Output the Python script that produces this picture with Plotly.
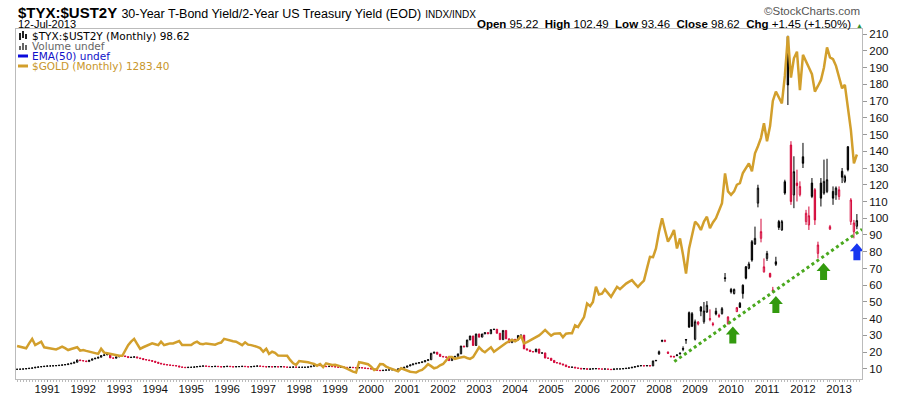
import pandas as pd
import plotly.graph_objects as go

# ---------------- data ----------------
START = "1990-03-01"   # first monthly bar

# $TYX:$UST2Y monthly closes, Mar-1990 .. Dec-2007 (small marks)
early_close = [
    9.8, 9.9, 10.0, 10.2, 10.4, 10.6, 11.0, 11.2, 11.4, 11.6,
    11.8, 11.8, 11.9, 12.0, 12.2, 12.4, 12.6, 13.0, 13.4, 14.0,
    15.4, 15.0, 14.8, 14.4, 15.2, 16.0, 16.4, 17.0, 18.0, 18.4,
    19.0, 16.6, 16.4, 17.2, 17.8, 17.8, 17.4, 16.8, 17.0, 17.2,
    16.6, 16.2, 15.6, 15.4, 15.0, 14.6, 14.0, 13.4, 13.0, 12.6,
    12.4, 12.2, 12.0, 11.8, 11.2, 11.0, 10.8, 11.0, 11.0, 11.2,
    11.4, 11.6, 11.8, 11.6, 11.4, 11.4, 11.6, 11.4, 11.2, 11.4,
    11.6, 11.4, 11.2, 11.4, 11.4, 11.6, 11.4, 11.2, 11.4, 11.6,
    11.8, 11.6, 11.4, 11.2, 11.4, 11.2, 11.4, 11.2, 11.4, 11.2,
    11.0, 11.0, 11.2, 11.0, 11.0, 11.0, 11.0, 11.2, 11.6, 12.0,
    12.2, 12.0, 11.6, 11.4, 11.6, 11.4, 11.2, 11.0, 11.2, 11.0,
    10.8, 11.0, 10.8, 10.6, 10.8, 10.6, 10.4, 10.2, 10.0, 9.6,
    9.2, 9.0, 9.2, 9.4, 9.4, 9.6, 9.6, 10.0, 10.4, 11.0,
    11.8, 12.4, 13.0, 13.4, 13.8, 14.2, 15.0, 15.5, 19.4, 20.0,
    18.8, 17.5, 17.2, 17.0, 15.0, 17.0, 17.5, 19.0, 23.7, 23.2,
    27.3, 29.7, 24.0, 30.9, 29.0, 30.9, 31.7, 31.0, 33.5, 33.7,
    31.3, 27.5, 33.0, 28.0, 25.7, 27.7, 27.3, 30.0, 30.2, 22.0,
    21.3, 20.4, 20.2, 21.9, 19.4, 19.6, 16.5, 16.4, 15.1, 13.8,
    13.6, 13.0, 12.4, 11.4, 11.0, 11.1, 10.6, 10.4, 10.0, 10.2,
    9.8, 10.0, 10.1, 10.2, 10.0, 9.9, 10.0, 9.8, 9.6, 10.0,
    10.0, 10.0, 10.2, 10.4, 10.6, 11.0, 11.4, 11.8, 12.0, 11.8,
    12.0, 11.8, 14.8, 15.1,
]

# explicit OHLC, Jan-2008 .. Jul-2013
late_open = [18.9, 26.5, 26.5, 20.0, 17.6, 17.5, 18.0, 19.0, 22.2, 27.6,
             43.6, 43.0, 27.7, 36.8, 47.0, 38.2, 44.0, 39.5, 37.0, 44.5,
             42.0, 43.0, 64.5, 37.0, 57.5, 55.0, 44.2, 49.2, 60.0, 71.0,
             70.1, 86.0, 84.6, 109.0, 88.0, 68.0, 76.0, 67.0, 56.5, 74.0,
             98.0, 93.0, 121.8, 208.4, 143.7, 113.9, 121.0, 114.0, 136.7, 98.0,
             96.0, 121.0, 117.0, 79.0, 121.0, 115.0, 116.0, 93.5, 116.0, 114.0,
             113.0, 128.0, 122.0, 142.7, 98.0, 92.0, 95.22]
late_high = [21.0, 27.5, 27.6, 20.5, 18.0, 17.8, 18.8, 19.8, 23.5, 27.8,
             44.3, 44.0, 39.5, 38.5, 47.5, 50.0, 50.5, 45.6, 38.0, 46.5,
             43.0, 47.0, 67.3, 41.5, 58.4, 58.0, 47.0, 50.0, 60.5, 71.5,
             74.0, 87.0, 95.0, 120.0, 99.7, 76.0, 80.5, 67.5, 59.0, 77.0,
             99.0, 99.0, 123.0, 209.0, 146.0, 137.0, 129.0, 122.0, 145.0, 105.0,
             107.0, 124.0, 118.0, 86.0, 124.0, 135.0, 135.5, 96.0, 119.0, 119.0,
             119.0, 130.0, 126.0, 143.0, 112.0, 99.0, 102.49]
late_low = [18.5, 26.0, 26.0, 19.0, 17.0, 16.9, 17.6, 18.6, 20.6, 25.0,
            34.5, 35.0, 27.0, 36.0, 41.5, 37.0, 43.5, 38.5, 35.5, 42.0,
            40.5, 42.5, 62.1, 36.5, 55.0, 54.5, 44.0, 46.4, 52.0, 63.5,
            69.5, 74.0, 84.0, 106.5, 85.6, 67.5, 74.5, 64.5, 55.5, 71.5,
            93.0, 92.5, 114.0, 167.6, 108.0, 106.0, 110.0, 113.0, 130.0, 96.0,
            93.0, 112.0, 96.0, 76.0, 107.0, 114.0, 115.0, 93.0, 108.0, 111.0,
            111.0, 121.0, 121.0, 128.0, 96.0, 88.0, 93.46]
late_close = [20.3, 27.0, 26.9, 19.4, 17.3, 17.2, 18.3, 19.4, 21.8, 27.3,
              35.0, 35.5, 38.2, 38.0, 44.5, 44.6, 48.0, 40.0, 36.5, 42.8,
              41.5, 46.0, 64.0, 41.0, 56.0, 57.5, 46.6, 46.8, 55.0, 64.2,
              72.7, 75.0, 88.0, 118.0, 92.0, 71.0, 79.0, 65.0, 57.0, 72.5,
              94.5, 98.0, 115.0, 179.6, 110.0, 127.8, 119.5, 119.0, 132.8, 103.0,
              101.5, 113.0, 99.0, 84.0, 112.0, 122.0, 123.0, 95.0, 112.0, 118.0,
              117.0, 124.5, 125.0, 129.0, 110.9, 97.17, 98.62]

# $GOLD monthly, Mar-1990 .. Jul-2013 (USD)
gold = [
    390, 386, 383, 379, 402, 423, 394, 402, 410, 384,
    381, 379, 376, 374, 380, 387, 380, 371, 376, 381,
    384, 368, 371, 367, 363, 360, 356, 353, 377, 359,
    356, 353, 350, 345, 344, 344, 370, 394, 410, 423,
    400, 377, 384, 390, 396, 402, 398, 394, 410, 394,
    398, 402, 402, 406, 413, 394, 395, 393, 394, 405,
    410, 400, 398, 402, 400, 398, 396, 402, 406, 423,
    418, 414, 412, 410, 402, 394, 407, 396, 394, 391,
    386, 380, 363, 377, 353, 363, 358, 345, 344, 343,
    344, 325, 309, 302, 320, 318, 317, 314, 310, 306,
    298, 306, 291, 309, 305, 301, 302, 299, 294, 290,
    284, 275, 270, 266, 314, 312, 309, 305, 294, 278,
    283, 306, 305, 294, 288, 282, 278, 272, 286, 280,
    276, 270, 268, 266, 274, 278, 290, 305, 296, 286,
    290, 300,
    306, 322, 338, 338, 330, 334, 338, 340, 334, 330,
    338, 361, 384, 369, 361, 373, 384, 363, 373, 384,
    396, 404, 412, 418, 412, 420, 438, 402, 408, 416,
    423, 430, 439, 451, 465, 451, 438, 447, 449, 449,
    431, 447, 449, 449, 486, 478, 502, 525, 588, 576,
    595, 666, 630, 634, 654, 634, 619, 642, 666, 655,
    670, 681, 689, 697, 681, 666, 681, 695, 752, 806,
    804, 845, 923, 986, 931, 877, 900, 931, 845, 892,
    814, 728, 845, 908, 970, 955, 931, 970, 993, 939,
    966, 986, 1025, 1056, 1195, 1111, 1095, 1111, 1142, 1150,
    1197, 1220, 1242, 1205, 1289, 1322, 1361, 1429, 1345, 1416,
    1533, 1577, 1553, 1522, 1650, 1836, 1642, 1732, 1763, 1584,
    1748, 1713, 1689, 1658, 1577, 1603, 1630, 1689, 1783, 1736,
    1728, 1697, 1650, 1592, 1608, 1491, 1398, 1242, 1283.40,
]

# support trendline and arrow markers
trend_x = ["2008-06-04", "2013-08-22"]
trend_y = [14.4, 93.4]
green_arrow_x = ["2010-01-19", "2011-04-01", "2012-07-28"]
green_arrow_y = [35.3, 53.6, 73.3]
blue_arrow_x = ["2013-07-01"]
blue_arrow_y = [85.0]

y_ticks = list(range(10, 211, 10))

# ---------------- build ----------------
early_open = [early_close[0]] + early_close[:-1]
opens = early_open + late_open
closes = early_close + late_close
highs = [max(o, c) for o, c in zip(early_open, early_close)] + late_high
lows = [min(o, c) for o, c in zip(early_open, early_close)] + late_low
dates = pd.date_range(START, periods=len(closes), freq="MS")
gdates = pd.date_range(START, periods=len(gold), freq="MS")

RED = "#d4083a"
BLACK = "#000000"
GOLD = "#d29f2c"

groups = {"black": [], "red": []}
for i in range(len(closes)):
    prev = closes[i - 1] if i > 0 else closes[i]
    groups["black" if closes[i] >= prev else "red"].append(i)

fig = go.Figure()
for name, col in (("black", BLACK), ("red", RED)):
    idx = groups[name]
    fig.add_trace(go.Candlestick(
        x=[dates[i] for i in idx],
        open=[opens[i] for i in idx], high=[highs[i] for i in idx],
        low=[lows[i] for i in idx], close=[closes[i] for i in idx],
        increasing=dict(line=dict(color=col, width=1), fillcolor="white"),
        decreasing=dict(line=dict(color=col, width=1), fillcolor=col),
        whiskerwidth=0, showlegend=False, hoverinfo="skip",
    ))

fig.add_trace(go.Scatter(x=gdates, y=gold, mode="lines", yaxis="y2",
                         line=dict(color=GOLD, width=2.5), showlegend=False,
                         hoverinfo="skip"))

fig.add_trace(go.Scatter(x=trend_x, y=trend_y, mode="lines",
                         line=dict(color="#4aa81e", width=3, dash="dot"),
                         showlegend=False, hoverinfo="skip"))

arrow_path = "M 0,0 L 7,-8 L 3.5,-8 L 3.5,-17 L -3.5,-17 L -3.5,-8 L -7,-8 Z"
shapes = []
for xs, ys, col in ((green_arrow_x, green_arrow_y, "#339a0e"),
                    (blue_arrow_x, blue_arrow_y, "#1736f0")):
    for xa, ya in zip(xs, ys):
        shapes.append(dict(type="path", xref="x", yref="y",
                           xsizemode="pixel", ysizemode="pixel",
                           xanchor=xa, yanchor=ya, path=arrow_path,
                           fillcolor=col, line=dict(width=0)))

FIG_W, FIG_H = 900, 396
L, R, T, B = 16, 862, 29, 379          # plot area in pixels
W, H = R - L, B - T


def xp(px):
    return (px - L) / W


def yp(py):
    return (B - py) / H


# legend icons
shapes += [
    dict(type="line", xref="paper", yref="paper", x0=xp(18), x1=xp(28),
         y0=yp(56), y1=yp(56), line=dict(color="#0a0adc", width=3)),
    dict(type="line", xref="paper", yref="paper", x0=xp(18), x1=xp(28),
         y0=yp(66), y1=yp(66), line=dict(color=GOLD, width=3)),
]
for bx, bh in ((19, 4), (22, 7), (25, 5)):
    shapes.append(dict(type="rect", xref="paper", yref="paper",
                       x0=xp(bx), x1=xp(bx + 2), y0=yp(50), y1=yp(50 - bh),
                       fillcolor="#666", line=dict(width=0)))
for bx, top, bot in ((19, 33, 40), (22, 31, 38), (25, 34, 39)):
    shapes.append(dict(type="rect", xref="paper", yref="paper",
                       x0=xp(bx), x1=xp(bx + 2), y0=yp(bot), y1=yp(top),
                       fillcolor="#222", line=dict(width=0)))

FONT = "Liberation Sans, Arial, sans-serif"
LFONT = "DejaVu Sans, Verdana, sans-serif"
nb = "&nbsp;"
annotations = [
    dict(x=xp(16), y=yp(13), xref="paper", yref="paper", xanchor="left",
         yanchor="middle", showarrow=False,
         text="<b>$TYX:$UST2Y</b> <span style='font-size:12.5px'>30-Year T-Bond Yield/2-Year US Treasury Yield (EOD)</span>"
              " <span style='font-size:10px'>INDX/INDX</span>",
         font=dict(family=FONT, size=15, color="#000")),
    dict(x=xp(16), y=yp(24.5), xref="paper", yref="paper", xanchor="left",
         yanchor="middle", showarrow=False, text="12-Jul-2013",
         font=dict(family=FONT, size=11, color="#000")),
    dict(x=xp(862), y=yp(11), xref="paper", yref="paper", xanchor="right",
         yanchor="middle", showarrow=False, text="©StockCharts.com",
         font=dict(family=FONT, size=11.5, color="#555")),
    dict(x=xp(853), y=yp(24.5), xref="paper", yref="paper", xanchor="right",
         yanchor="middle", showarrow=False,
         text=f"<b>Open</b> 95.22{nb}{nb}<b>High</b> 102.49{nb}{nb}<b>Low</b> 93.46{nb}{nb}"
              f"<b>Close</b> 98.62{nb}{nb}<b>Chg</b> +1.45 (+1.50%)",
         font=dict(family=FONT, size=11.5, color="#000")),
    dict(x=xp(859), y=yp(25), xref="paper", yref="paper", xanchor="center",
         yanchor="middle", showarrow=False, text="▲",
         font=dict(family=FONT, size=7, color="#2f8f2f")),
]
legend_rows = [
    ("$TYX:$UST2Y (Monthly) 98.62", "#000", 36),
    ("Volume undef", "#666", 46),
    ("EMA(50) undef", "#1010c8", 56),
    ("$GOLD (Monthly) 1283.40", "#c8962a", 66),
]
for txt, col, py in legend_rows:
    annotations.append(dict(x=xp(30), y=yp(py), xref="paper", yref="paper",
                            xanchor="left", yanchor="middle", showarrow=False,
                            text=txt, font=dict(family=LFONT, size=10.5, color=col)))

fig.update_layout(
    template="none",
    width=FIG_W, height=FIG_H,
    margin=dict(l=L, r=FIG_W - R, t=T, b=FIG_H - B, pad=0, autoexpand=False),
    paper_bgcolor="white", plot_bgcolor="white",
    showlegend=False,
    xaxis=dict(type="date", range=["1990-02-18", "2013-08-22"],
               automargin=False,
               rangeslider=dict(visible=False),
               tick0="1991-01-01", dtick="M12", tickformat="%Y",
               ticks="outside", ticklen=2, tickcolor="#999",
               ticklabelstandoff=-3,
               minor=dict(dtick="M1", ticks="outside", ticklen=2, tickcolor="#bbb"),
               showline=True, linecolor="#bbb", linewidth=1, mirror=True,
               showgrid=False, zeroline=False,
               tickfont=dict(family=FONT, size=11.5, color="#111")),
    yaxis=dict(side="right", range=[4, 213], tickvals=y_ticks,
               automargin=False,
               ticks="outside", ticklen=4, tickcolor="#999",
               showline=True, linecolor="#bbb", linewidth=1, mirror=True,
               showgrid=False, zeroline=False,
               tickfont=dict(family=FONT, size=11.5, color="#111")),
    yaxis2=dict(overlaying="y", range=[235.9, 1868.8], visible=False,
                showgrid=False, zeroline=False),
    shapes=shapes,
    annotations=annotations,
)

# remove the browser's default 8px page margin so the figure fills the window
fig.write_html("out.html",
               config={"displayModeBar": False, "staticPlot": True},
               post_script="document.body.style.margin='0px';"
                           "document.body.style.overflow='hidden';")
